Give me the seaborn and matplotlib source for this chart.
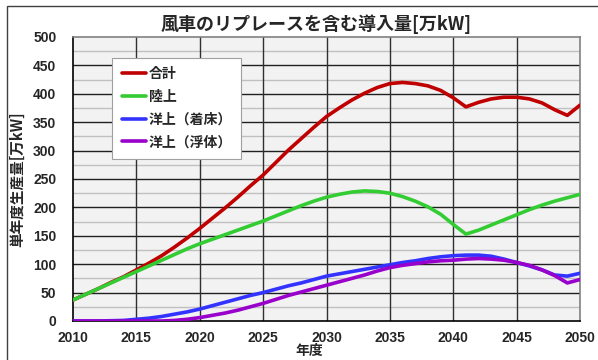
import numpy as np
import pandas as pd
import matplotlib
matplotlib.use("Agg")
import matplotlib.pyplot as plt
import seaborn as sns
from matplotlib.patches import Rectangle

years = list(range(2010, 2051))
total = [37, 47, 57, 68, 78, 90, 102, 115, 130, 146, 163, 181, 199, 218, 238, 257, 279, 301, 321, 341,
         360, 375, 389, 401, 411, 418, 420, 418, 414, 406, 393, 377, 385, 391, 394, 394, 391, 384, 372, 362, 380]
onshore = [37, 47, 57, 67, 77, 87, 97, 107, 117, 127, 136, 144, 152, 160, 168, 176, 185, 194, 203, 211,
           218, 223, 227, 229, 228, 225, 219, 211, 201, 188, 170, 153, 160, 169, 178, 187, 196, 204, 211, 217, 223]
fixed = [0, 0, 0, 0.5, 1, 3, 5, 8, 12, 16, 21, 27, 33, 39, 45, 50, 56, 62, 67, 73,
         79, 83, 87, 91, 95, 99, 103, 106, 110, 113, 115, 116, 116, 114, 109, 103, 97, 90, 81, 79, 84]
floating = [0, 0, 0, 0, 0, 0, 0, 0, 1, 3, 6, 10, 14, 19, 25, 31, 38, 45, 51, 57,
            63, 69, 75, 81, 88, 94, 98, 101, 104, 106, 107, 109, 110, 109, 107, 103, 98, 90, 80, 67, 73]
series_names = ["合計", "陸上", "洋上（着床）", "洋上（浮体）"]
colors = ["#c00000", "#33cc33", "#3333ff", "#9900cc"]

df = pd.concat([
    pd.DataFrame({"年度": years, "値": v, "系列": n})
    for n, v in zip(series_names, [total, onshore, fixed, floating])
])

sns.set_theme(style="white")
plt.rcParams["font.family"] = ["Liberation Sans", "Noto Sans CJK JP", "DejaVu Sans"]
plt.rcParams["font.weight"] = "bold"

fig = plt.figure(figsize=(5.98, 3.6), dpi=100)
ax = fig.add_axes([73/598, 1-321/360, (580-73)/598, (321-37)/360])
ax.set_facecolor("#f2f2f2")

# gridlines
for yv in np.arange(25, 500, 50):
    ax.axhline(yv, color="#c0c0c0", lw=1.0, zorder=0)
for yv in np.arange(50, 500, 50):
    ax.axhline(yv, color="#202020", lw=1.0, zorder=0.5)
for xv in range(2015, 2050, 5):
    ax.axvline(xv, color="#303030", lw=1.0, zorder=0.5)

sns.lineplot(data=df, x="年度", y="値", hue="系列", palette=dict(zip(series_names, colors)),
             hue_order=series_names, lw=2.6, ax=ax, legend=False, zorder=3)

ax.set_xlim(2010, 2050)
ax.set_ylim(0, 500)
ax.set_xticks(range(2010, 2051, 5))
ax.set_yticks(range(0, 501, 50))
ax.tick_params(axis="x", length=0, pad=7, labelsize=10)
ax.tick_params(axis="y", length=0, pad=12, labelsize=10)
for lab in ax.get_xticklabels() + ax.get_yticklabels():
    lab.set_fontweight("bold")
for s in ["left", "bottom"]:
    ax.spines[s].set_color("#000000")
    ax.spines[s].set_linewidth(1.2)
for s in ["top", "right"]:
    ax.spines[s].set_color("#808080")
    ax.spines[s].set_linewidth(1.2)

ax.set_xlabel("年度", fontsize=10, fontweight="bold", labelpad=0,
              family=["Noto Sans CJK JP", "DejaVu Sans"])
ax.set_ylabel("単年度生産量[万kW]", fontsize=10.5, fontweight="bold", labelpad=4,
              family=["Noto Sans CJK JP", "DejaVu Sans"])
ax.xaxis.set_label_coords(0.466, -0.08)
ax.yaxis.set_label_coords(-0.095, 0.5)

fig.text(316/598, 1-24/360, "風車のリプレースを含む導入量[万kW]", ha="center", va="center",
         fontsize=13, fontweight="bold", family=["Noto Sans CJK JP", "DejaVu Sans"])

handles = [plt.Line2D([], [], color=c, lw=2.6) for c in colors]
leg = ax.legend(handles, series_names, loc="upper left", bbox_to_anchor=(0.064, 0.952),
                frameon=True, fancybox=False, framealpha=1, edgecolor="#a0a0a0",
                handlelength=1.7, handletextpad=0.2, labelspacing=0.62,
                borderpad=0.7, prop={"weight": "bold", "size": 10,
                                     "family": ["Noto Sans CJK JP", "DejaVu Sans"]})
leg.get_frame().set_linewidth(0.8)
leg.set_zorder(5)

fig.patches.append(Rectangle((7/598, -0.1), 1.2, 1 - 6/360 + 0.1, transform=fig.transFigure,
                             fill=False, edgecolor="#404040", lw=1.0))

fig.savefig("out.png", dpi=100)
